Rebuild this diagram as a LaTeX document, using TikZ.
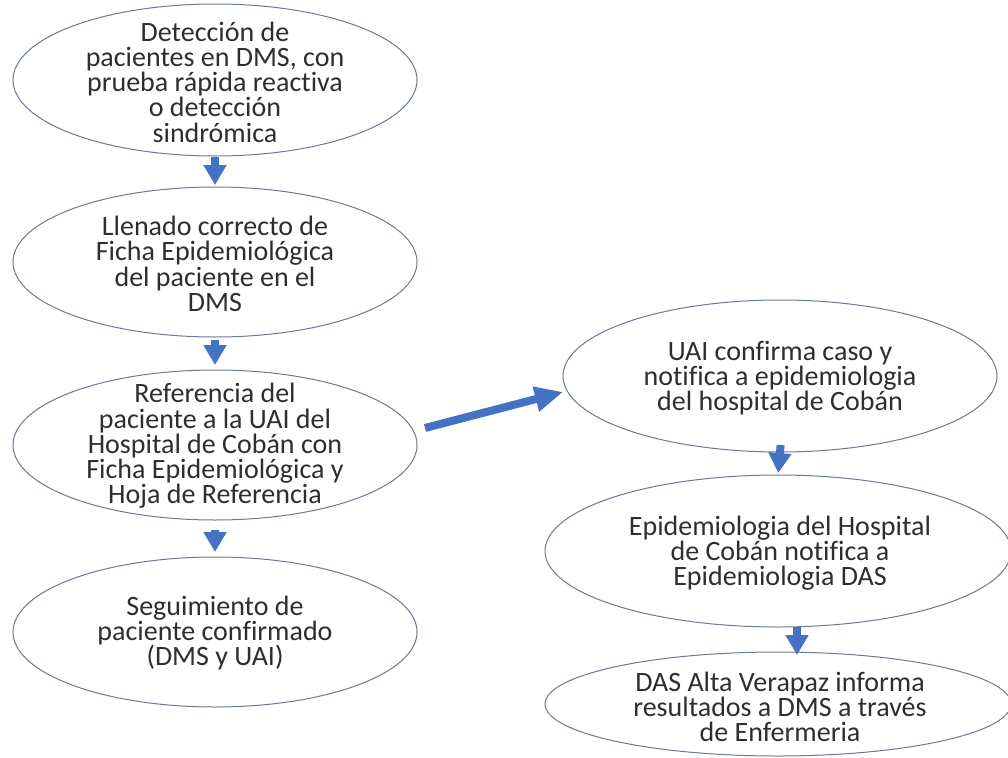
\documentclass[tikz,border=0pt]{standalone}
\usepackage{fontspec}
\setmainfont{Carlito}[Ligatures=NoCommon]
\usetikzlibrary{shapes.geometric,arrows.meta}
\definecolor{ellc}{HTML}{6A7A96}
\definecolor{txtc}{HTML}{2E2E2E}
\definecolor{arrc}{HTML}{4472C4}
\tikzset{
  ell/.style={draw=ellc, line width=1pt, ellipse, inner sep=0pt, outer sep=0pt},
  txt/.style={align=center, text=txtc, font=\fontsize{28}{25.3}\selectfont, inner sep=0pt},
  blockarr/.style={draw=arrc, line width=8pt, -{Triangle[width=22pt,length=20pt]}},
  diagarr/.style={draw=arrc, line width=8pt, -{Triangle[width=24pt,length=28pt]}}
}
\begin{document}
\begin{tikzpicture}[x=1pt,y=-1pt]
\useasboundingbox[fill=white] (0,0) rectangle (1008,757);
% left column
\node[ell, minimum width=404pt, minimum height=152pt] (e1) at (215,80) {};
\node[txt] (t1) at (215,82) {Detección de\\pacientes en DMS, con\\prueba rápida reactiva\\o detección\\sindrómica};
\node[ell, minimum width=404pt, minimum height=150pt] (e2) at (215,262) {};
\node[txt] (t2) at (215,264) {Llenado correcto de\\Ficha Epidemiológica\\del paciente en el\\DMS};
\node[ell, minimum width=404pt, minimum height=150pt] (e3) at (215,445) {};
\node[txt] (t3) at (215,446) {Referencia del\\paciente a la UAI del\\Hospital de Cobán con\\Ficha Epidemiológica y\\Hoja de Referencia};
\node[ell, minimum width=404pt, minimum height=150pt] (e4) at (215,632) {};
\node[txt] (t4) at (215,633) {Seguimiento de\\paciente confirmado\\(DMS y UAI)};
% right column
\node[ell, minimum width=434pt, minimum height=152pt] (e5) at (780,376) {};
\node[txt] (t5) at (780,378) {UAI confirma caso y\\notifica a epidemiologia\\del hospital de Cobán};
\node[ell, minimum width=466pt, minimum height=152pt] (e6) at (778,551) {};
\node[txt] (t6) at (780,553) {Epidemiologia del Hospital\\de Cobán notifica a\\Epidemiologia DAS};
\node[ell, minimum width=466pt, minimum height=104pt] (e7) at (778,704) {};
\node[txt] (t7) at (780,707) {DAS Alta Verapaz informa\\resultados a DMS a través\\de Enfermeria};
% arrows
\draw[blockarr, shorten <=1pt, shorten >=2pt] (e1.south) -- (e2.north);
\draw[blockarr, shorten <=3pt, shorten >=5pt] (e2.south) -- (e3.north);
\draw[blockarr, shorten <=10pt, shorten >=5pt] (e3.south) -- (e4.north);
\draw[blockarr, shorten <=-7pt, shorten >=2pt] (e5.south) -- (e6.north);
\draw[blockarr, shorten <=0pt, shorten >=-3pt] ([xshift=19pt]e6.south) -- ([xshift=19pt]e7.north);
\draw[diagarr] ([xshift=8pt,yshift=17pt]e3.east) -- ([yshift=-16pt]e5.west);
\end{tikzpicture}
\end{document}
